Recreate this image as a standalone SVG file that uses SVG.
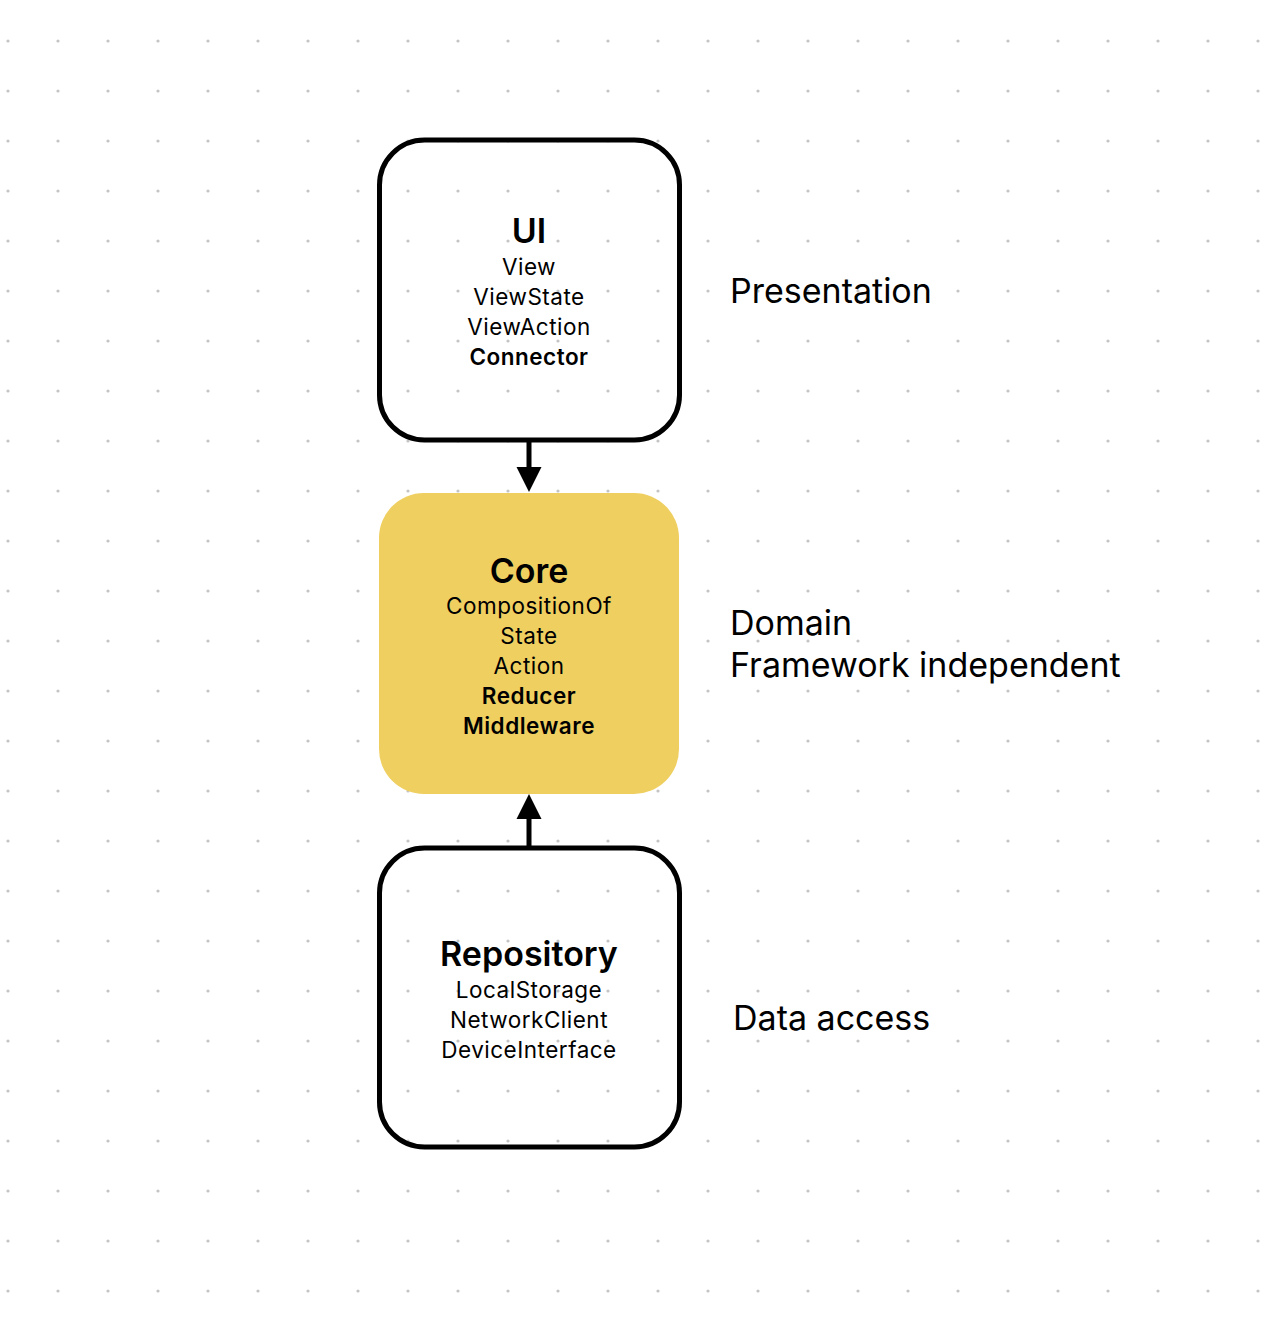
<svg xmlns="http://www.w3.org/2000/svg" width="1272" height="1330" viewBox="0 0 1272 1330">
<defs>
<pattern id="dots" x="0" y="0" width="50" height="50" patternUnits="userSpaceOnUse">
<circle cx="8" cy="41" r="1.6" fill="#c4c4c4"/>
</pattern>
<style>
.box{fill:none;stroke:#000;stroke-width:5}
.core{fill:#EFCF60}
.title{font-family:Inter,"Liberation Sans",sans-serif;font-weight:600;font-size:34px;text-anchor:middle;fill:#000}
.item{font-family:Inter,"Liberation Sans",sans-serif;font-size:22.5px;letter-spacing:0.5px;text-anchor:middle;fill:#000}
.bold{font-weight:600}
.label{font-family:Inter,"Liberation Sans",sans-serif;font-size:34px;fill:#000}
.conn{stroke:#000;stroke-width:5;fill:none}
</style>
</defs>
<rect width="1272" height="1330" fill="#fff"/>
<rect x="0" y="0" width="1272" height="1300" fill="url(#dots)"/>
<g id="ui">
<rect class="box" x="379.5" y="140" width="300" height="300" rx="45"/>
<text class="title" x="529" y="243">UI</text>
<text class="item" x="529" y="275">View</text>
<text class="item" x="529" y="305">ViewState</text>
<text class="item" x="529" y="335">ViewAction</text>
<text class="item bold" x="529" y="365">Connector</text>
</g>
<g id="core">
<rect class="core" x="379" y="493" width="300" height="301" rx="45"/>
<text class="title" x="529" y="583">Core</text>
<text class="item" x="529" y="614">CompositionOf</text>
<text class="item" x="529" y="644">State</text>
<text class="item" x="529" y="674">Action</text>
<text class="item bold" x="529" y="704">Reducer</text>
<text class="item bold" x="529" y="734">Middleware</text>
</g>
<g id="repository">
<rect class="box" x="379.5" y="848" width="300" height="299" rx="45"/>
<text class="title" x="529" y="966">Repository</text>
<text class="item" x="529" y="998">LocalStorage</text>
<text class="item" x="529" y="1028">NetworkClient</text>
<text class="item" x="529" y="1058">DeviceInterface</text>
</g>
<g id="labels">
<text class="label" x="730" y="303">Presentation</text>
<text class="label" x="730" y="635">Domain</text>
<text class="label" x="730" y="677">Framework independent</text>
<text class="label" x="733" y="1030">Data access</text>
</g>
<g id="connectors">
<line class="conn" x1="529" y1="440" x2="529" y2="469"/>
<path d="M516.5,467 L541.5,467 L529,492 z" fill="#000"/>
<line class="conn" x1="529" y1="848" x2="529" y2="817"/>
<path d="M516.5,819 L541.5,819 L529,794 z" fill="#000"/>
</g>
</svg>
